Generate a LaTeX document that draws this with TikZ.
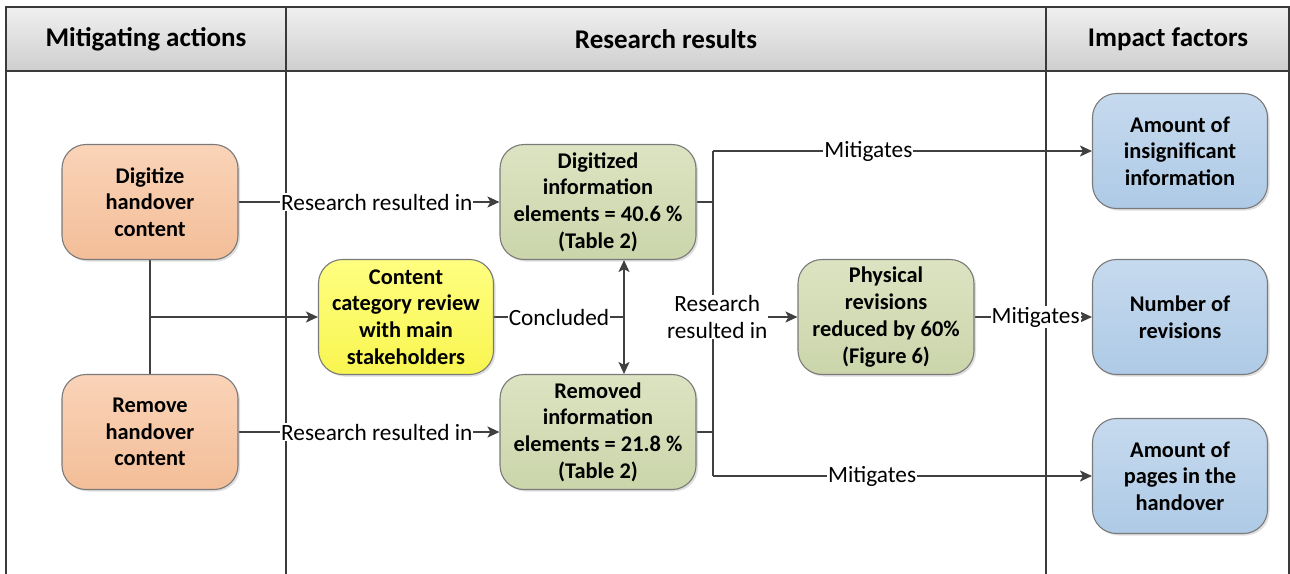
\documentclass[tikz,border=0pt]{standalone}
\usepackage{fontspec}
\setmainfont{Carlito}
\usetikzlibrary{arrows.meta,backgrounds,shadows}
\definecolor{linec}{HTML}{404040}
\definecolor{frame}{HTML}{3A3A3A}
\definecolor{orangeA}{HTML}{FAD3B8}
\definecolor{orangeB}{HTML}{F3BE98}
\definecolor{greenA}{HTML}{DCE3C2}
\definecolor{greenB}{HTML}{CBD5AA}
\definecolor{yellowA}{HTML}{FFFF80}
\definecolor{yellowB}{HTML}{F8F550}
\definecolor{blueA}{HTML}{C6DAEE}
\definecolor{blueB}{HTML}{AECAE6}
\definecolor{bord}{HTML}{7A7A7A}
\tikzset{
  box/.style={rounded corners=24pt, draw=bord, line width=1.1pt,
    minimum width=176pt, minimum height=115pt, align=center,
    font=\fontsize{22.4}{26.7}\selectfont\bfseries,
    drop shadow={opacity=0.25, shadow xshift=2pt, shadow yshift=-2pt}},
  orangebox/.style={box, top color=orangeA, bottom color=orangeB},
  greenbox/.style={box, top color=greenA, bottom color=greenB},
  yellowbox/.style={box, top color=yellowA, bottom color=yellowB},
  bluebox/.style={box, top color=blueA, bottom color=blueB},
  conn/.style={draw=linec, line width=2pt},
  arrow/.style={conn, -{Stealth[length=12pt,width=11pt,inset=3pt]}},
  lbl/.style={fill=white, inner sep=1pt, font=\fontsize{23.3}{26.5}\selectfont, align=center, text=black},
  head/.style={font=\fontsize{27}{30}\selectfont\bfseries, text=black},
  rule/.style={draw=frame, line width=1.5pt}
}
\begin{document}
\begin{tikzpicture}[x=1pt,y=-1pt]
\useasboundingbox (0,0) rectangle (1290,573);

% nodes
\node[orangebox] (digit) at (150,202) {Digitize\\handover\\content};
\node[orangebox] (remove) at (150,432) {Remove\\handover\\content};
\node[yellowbox, minimum width=175pt] (content) at (406,317) {Content\\category review\\with main\\stakeholders};
\node[greenbox, minimum width=196pt] (digi) at (598,202) {Digitized\\information\\elements = 40.6 \%\\(Table 2)};
\node[greenbox, minimum width=196pt] (remov) at (598,432) {Removed\\information\\elements = 21.8 \%\\(Table 2)};
\node[greenbox] (phys) at (886,317) {Physical\\revisions\\reduced by 60\%\\(Figure 6)};
\node[bluebox, minimum width=175pt] (b1) at (1180,151) {Amount of\\insignificant\\information};
\node[bluebox, minimum width=175pt] (b2) at (1180,317) {Number of\\revisions};
\node[bluebox, minimum width=175pt] (b3) at (1180,476) {Amount of\\pages in the\\handover};

\coordinate (cj) at (624,317);
\coordinate (tr) at (713,317);

\begin{scope}[on background layer]
  % header
  \shade[top color=gray!12, bottom color=gray!38] (6,7) rectangle (1289,71);
  \draw[rule] (6,580) -- (6,7) -- (1289,7) -- (1289,580);
  \draw[rule] (6,71) -- (1289,71);
  \draw[rule] (286,7) -- (286,580);
  \draw[rule] (1046,7) -- (1046,580);

  % connectors
  \draw[arrow] (digit.east) -- node[lbl, pos=0.53] (l1) {Research resulted in} (digi.west);
  \draw[arrow] (remove.east) -- node[lbl, pos=0.53] (l2) {Research resulted in} (remov.west);
  \draw[conn] (digit.south) -- (remove.north);
  \draw[arrow] (digit.south |- content.west) -- (content.west);
  \draw[conn] (content.east) -- node[lbl] (l3) {Concluded} (cj);
  \draw[arrow] (cj) -- (cj |- digi.south);
  \draw[arrow] (cj) -- (cj |- remov.north);
  \draw[conn] (digi.east) -- (digi.east -| tr);
  \draw[conn] (remov.east) -- (remov.east -| tr);
  \draw[conn] (tr |- b1.west) -- (tr |- b3.west);
  \draw[arrow] (tr |- b1.west) -- node[lbl, pos=0.41] (l4) {Mitigates} (b1.west);
  \draw[arrow] (tr |- b3.west) -- node[lbl, pos=0.42] (l5) {Mitigates} (b3.west);
  \draw[arrow] (tr) -- node[lbl, pos=0.05] (l6) {Research\\resulted in} (phys.west);
  \draw[arrow] (phys.east) -- node[lbl, pos=0.52] (l7) {Mitigates} (b2.west);
\end{scope}

% header texts
\node[head] (h1) at (146,39) {Mitigating actions};
\node[head] (h2) at (666,39) {Research results};
\node[head] (h3) at (1168,39) {Impact factors};
\end{tikzpicture}
\end{document}
